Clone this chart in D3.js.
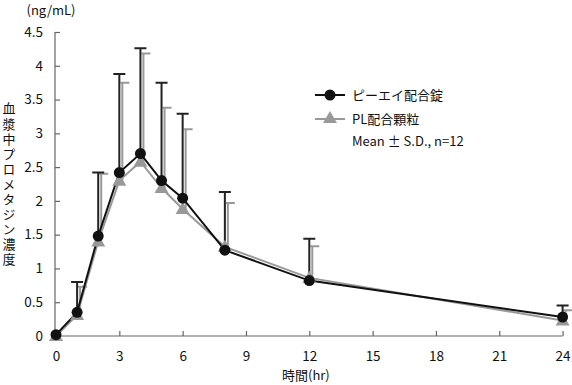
<!DOCTYPE html>
<html>
<head>
<meta charset="utf-8">
<script src="https://cdn.jsdelivr.net/npm/d3@7"></script>
<style>
  html, body { margin: 0; padding: 0; background: #fff; }
  svg text { font-family: "Noto Sans CJK JP", "Noto Sans", sans-serif; }
</style>
</head>
<body>
<div id="chart"></div>
<script>
// time points (hr)
const times = [0, 1, 2, 3, 4, 5, 6, 8, 12, 24];
// ピーエイ配合錠 mean / mean+SD
const tabMean = [0.02, 0.35, 1.48, 2.42, 2.70, 2.30, 2.04, 1.27, 0.82, 0.28];
const tabUpper = [null, 0.80, 2.42, 3.88, 4.26, 3.75, 3.29, 2.13, 1.44, 0.45];
// PL配合顆粒 mean / mean+SD
const plMean = [0.00, 0.31, 1.40, 2.30, 2.58, 2.19, 1.88, 1.32, 0.86, 0.23];
const plUpper = [null, 0.73, 2.40, 3.75, 4.18, 3.38, 3.06, 1.97, 1.33, 0.38];

const xTicks = [0, 3, 6, 9, 12, 15, 18, 21, 24];
const yTicks = [0, 0.5, 1, 1.5, 2, 2.5, 3, 3.5, 4, 4.5];
const seriesNames = ["ピーエイ配合錠", "PL配合顆粒"];
const noteText = "Mean ± S.D., n=12";
const yTitle = "血漿中プロメタジン濃度";

const W = 572, H = 385;
const x = d3.scaleLinear().domain([0, 24]).range([56, 562.6]);
const y = d3.scaleLinear().domain([0, 4.5]).range([336, 32]);

const svg = d3.select("#chart").append("svg").attr("width", W).attr("height", H);

// axes
const axisColor = "#666";
const gx = svg.append("g").attr("transform", `translate(0,${y(0)})`)
  .call(d3.axisBottom(x).tickValues(xTicks).tickSize(-5).tickPadding(15).tickFormat(d3.format("d")));
const gy = svg.append("g").attr("transform", `translate(${x(0) - 1},0)`)
  .call(d3.axisLeft(y).tickValues(yTicks).tickSize(-5).tickPadding(12).tickFormat(d => d));
[gx, gy].forEach(g => {
  g.select(".domain").attr("stroke", axisColor).attr("stroke-width", 1.2);
  g.selectAll(".tick line").attr("stroke", axisColor).attr("stroke-width", 1.2);
  g.selectAll(".tick text").attr("fill", "#111").attr("font-size", 13.5)
    .style("font-family", '"Noto Sans CJK JP", sans-serif');
});
gy.select(".domain").attr("d", `M0,${y(4.5)}V${y(0)}`);
gx.select(".domain").attr("d", `M${x(0) - 1},0H${x(24)}`);
gy.selectAll(".tick").filter(d => d === 0).select("line").remove();
gx.selectAll(".tick").filter(d => d === 0).select("line").remove();

// axis titles
svg.append("text").attr("x", 51).attr("y", 15).attr("text-anchor", "middle")
  .attr("font-size", 13).attr("fill", "#111").text("(ng/mL)");
svg.append("text")
  .attr("x", 9).attr("y", 102)
  .style("writing-mode", "vertical-rl").style("text-orientation", "upright")
  .style("letter-spacing", "2.1px")
  .attr("font-size", 13).attr("fill", "#111").text(yTitle);
svg.append("text").attr("x", 282).attr("y", 380).attr("text-anchor", "start")
  .attr("font-size", 13).attr("fill", "#111").text("時間(hr)");

const line = d3.line().x(d => x(d[0])).y(d => y(d[1]));
const plData = times.map((t, i) => [t, plMean[i], plUpper[i]]);
const tabData = times.map((t, i) => [t, tabMean[i], tabUpper[i]]);

const gray = "#999", black = "#111";

// error bars: gray (offset to the right) then black
const eb = svg.append("g");
eb.selectAll(".pl-bar").data(plData.filter(d => d[2] != null)).join("path")
  .attr("fill", "none").attr("stroke", gray).attr("stroke-width", 2)
  .attr("d", d => `M${x(d[0]) + 3},${y(d[1])}V${y(d[2])}M${x(d[0]) + 1},${y(d[2])}H${x(d[0]) + 10}`);
eb.selectAll(".tab-bar").data(tabData.filter(d => d[2] != null)).join("path")
  .attr("fill", "none").attr("stroke", "#222").attr("stroke-width", 2)
  .attr("d", d => `M${x(d[0])},${y(d[1])}V${y(d[2])}M${x(d[0]) - 6},${y(d[2])}H${x(d[0]) + 6}`);

// lines
svg.append("path").datum(plData).attr("fill", "none").attr("stroke", gray).attr("stroke-width", 2).attr("d", line);
svg.append("path").datum(tabData).attr("fill", "none").attr("stroke", black).attr("stroke-width", 2).attr("d", line);

// markers
const tri = d3.symbol().type(d3.symbolTriangle).size(85);
svg.append("g").selectAll("path").data(plData).join("path")
  .attr("transform", d => `translate(${x(d[0])},${y(d[1]) + 1})`)
  .attr("d", tri).attr("fill", gray);
svg.append("g").selectAll("circle").data(tabData).join("circle")
  .attr("cx", d => x(d[0])).attr("cy", d => y(d[1])).attr("r", 5.5).attr("fill", black);

// legend
const lg = svg.append("g");
const rows = [
  { name: seriesNames[0], color: black, shape: "circle", yy: 95 },
  { name: seriesNames[1], color: gray, shape: "tri", yy: 119 }
];
rows.forEach(r => {
  lg.append("line").attr("x1", 315).attr("x2", 345).attr("y1", r.yy).attr("y2", r.yy)
    .attr("stroke", r.color).attr("stroke-width", 2);
  if (r.shape === "circle") lg.append("circle").attr("cx", 330).attr("cy", r.yy).attr("r", 5.5).attr("fill", r.color);
  else lg.append("path").attr("transform", `translate(330,${r.yy})`).attr("d", tri).attr("fill", r.color);
  lg.append("text").attr("x", 352).attr("y", r.yy).attr("dy", "0.35em")
    .attr("font-size", 13).attr("fill", "#111").text(r.name);
});
lg.append("text").attr("x", 352).attr("y", 141).attr("dy", "0.35em")
  .attr("font-size", 13).attr("fill", "#111").text(noteText);
</script>
</body>
</html>
